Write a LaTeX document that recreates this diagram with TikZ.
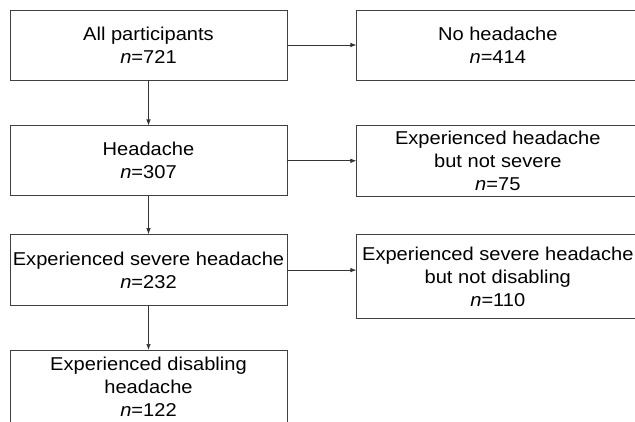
\documentclass[tikz,border=0pt]{standalone}
\usepackage{fontspec}
\setmainfont[FakeStretch=1.08]{Liberation Sans}
\usetikzlibrary{arrows.meta,positioning}

\begin{document}
\begin{tikzpicture}[>={Latex[length=6pt,width=4.5pt]},node distance=45pt]
\tikzset{
				flowbox/.style={
					draw=black!75,
					line width=0.8pt,
					minimum width=277pt,
					minimum height=70pt,
					align=center,
					inner sep=2pt,
					font=\fontsize{18.6}{23}\selectfont
				},
				outbox/.style={
					flowbox,
					minimum width=282pt
				}
			}
			\useasboundingbox (0,0) rectangle (635pt,-421pt);
			\clip (0,0) rectangle (635pt,-421pt);
			\node[flowbox] (all) at (148.5pt,-45pt) {All participants\\\textit{n}=721};
			\node[flowbox,below=of all] (head) {Headache\\\textit{n}=307};
			\node[flowbox,below=38pt of head,minimum height=71pt] (sev) {Experienced severe headache\\\textit{n}=232};
			\node[flowbox,below=44pt of sev,minimum height=72pt] (dis) {Experienced disabling\\headache\\\textit{n}=122};
			
			\node[outbox,right=69pt of all] (nohead) {No headache\\\textit{n}=414};
			\node[outbox,right=69pt of head,minimum height=71pt] (notsev) {Experienced headache\\but not severe\\\textit{n}=75};
			\node[outbox,right=69pt of sev.north east,anchor=north west,minimum height=84pt] (notdis) {Experienced severe headache\\but not disabling\\\textit{n}=110};
			
			\draw[->,line width=0.7pt,black!80] (all) -- (head);
			\draw[->,line width=0.7pt,black!80] (head) -- (sev);
			\draw[->,line width=0.7pt,black!80] (sev) -- (dis);
			\draw[->,line width=0.7pt,black!80] (all) -- (nohead);
			\draw[->,line width=0.7pt,black!80] (head) -- (notsev);
			\draw[->,line width=0.7pt,black!80] (sev.east) -- (sev.east -| notdis.west);
\end{tikzpicture}
\end{document}
